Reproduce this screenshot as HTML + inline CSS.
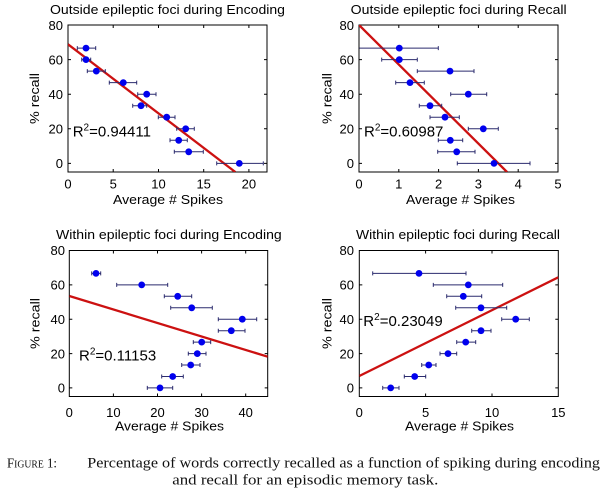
<!DOCTYPE html>
<html><head><meta charset="utf-8"><style>
html,body{margin:0;padding:0;background:#fff;}
svg{display:block;}
.t{font-family:"Liberation Sans",Arial,sans-serif;fill:#000;}
.c{font-family:"Liberation Serif","Times New Roman",serif;fill:#111;}
</style></head><body>
<svg width="608" height="499" viewBox="0 0 608 499" xmlns="http://www.w3.org/2000/svg">
<defs>
<clipPath id="c1"><rect x="68" y="25" width="199" height="147"/></clipPath>
<clipPath id="c2"><rect x="359" y="25" width="199" height="147"/></clipPath>
<clipPath id="c3"><rect x="69.3" y="250.5" width="198.4" height="146"/></clipPath>
<clipPath id="c4"><rect x="359.3" y="250.5" width="199" height="146"/></clipPath>
</defs>

<!-- ================= Panel 1 ================= -->
<g>
<rect x="68" y="25" width="199" height="147" fill="#fff" stroke="#000" stroke-width="1"/>
<g stroke="#000" stroke-width="1">
<path d="M113.2 172v-3M158.5 172v-3M203.7 172v-3M248.9 172v-3M113.2 25v3M158.5 25v3M203.7 25v3M248.9 25v3"/>
<path d="M68 163.4h3M68 128.8h3M68 94.2h3M68 59.6h3M267 163.4h-3M267 128.8h-3M267 94.2h-3M267 59.6h-3"/>
</g>
<g class="t" font-size="13" text-anchor="end">
<text x="63" y="30">80</text><text x="63" y="64.3">60</text><text x="63" y="98.9">40</text><text x="63" y="133.5">20</text><text x="63" y="168.1">0</text>
</g>
<g class="t" font-size="13" text-anchor="middle">
<text x="68" y="188.5">0</text><text x="113.2" y="188.5">5</text><text x="158.5" y="188.5">10</text><text x="203.7" y="188.5">15</text><text x="248.9" y="188.5">20</text>
</g>
<text class="t" font-size="13" x="50" y="14" textLength="235" lengthAdjust="spacingAndGlyphs">Outside epileptic foci during Encoding</text>
<text class="t" font-size="13" x="113" y="204" textLength="110" lengthAdjust="spacingAndGlyphs">Average # Spikes</text>
<text class="t" font-size="13" transform="translate(39,124) rotate(-90)" textLength="51" lengthAdjust="spacingAndGlyphs">% recall</text>
<g clip-path="url(#c1)">
<line x1="68" y1="44.3" x2="235.3" y2="172" stroke="#cc1111" stroke-width="2.3"/>
<g stroke="#2b2b6e" stroke-width="1" fill="none">
<path d="M77.3 48.1H95.7M77.3 46.1v4M95.7 46.1v4"/>
<path d="M81.7 59.6H90.7M81.7 57.6v4M90.7 57.6v4"/>
<path d="M87.3 71.1H105.3M87.3 69.1v4M105.3 69.1v4"/>
<path d="M109.3 82.6H136.7M109.3 80.6v4M136.7 80.6v4"/>
<path d="M137.7 94.2H156M137.7 92.2v4M156 92.2v4"/>
<path d="M132.7 105.7H146.7M132.7 103.7v4M146.7 103.7v4"/>
<path d="M158.3 117.2H175M158.3 115.2v4M175 115.2v4"/>
<path d="M176.7 128.8H194.3M176.7 126.8v4M194.3 126.8v4"/>
<path d="M170 140.3H187.3M170 138.3v4M187.3 138.3v4"/>
<path d="M174.3 151.8H203.3M174.3 149.8v4M203.3 149.8v4"/>
<path d="M216.7 163.4H263.3M216.7 161.4v4M263.3 161.4v4"/>
</g>
<g fill="#0000ee">
<circle cx="86" cy="48.1" r="3.4"/><circle cx="86" cy="59.6" r="3.4"/><circle cx="96.3" cy="71.1" r="3.4"/>
<circle cx="123.3" cy="82.6" r="3.4"/><circle cx="146.7" cy="94.2" r="3.4"/><circle cx="141" cy="105.7" r="3.4"/>
<circle cx="166.7" cy="117.2" r="3.4"/><circle cx="185.7" cy="128.8" r="3.4"/><circle cx="178.7" cy="140.3" r="3.4"/>
<circle cx="188.7" cy="151.8" r="3.4"/><circle cx="239.3" cy="163.4" r="3.4"/>
</g>
</g>
<text class="t" font-size="15" x="72.7" y="136.7">R<tspan font-size="10" dy="-6">2</tspan><tspan dy="6">=0.94411</tspan></text>
</g>

<!-- ================= Panel 2 ================= -->
<g>
<rect x="359" y="25" width="199" height="147" fill="none" stroke="#000" stroke-width="1"/>
<g stroke="#000" stroke-width="1">
<path d="M398.8 172v-3M438.6 172v-3M478.4 172v-3M518.2 172v-3M398.8 25v3M438.6 25v3M478.4 25v3M518.2 25v3"/>
<path d="M359 163.4h3M359 128.8h3M359 94.2h3M359 59.6h3M558 163.4h-3M558 128.8h-3M558 94.2h-3M558 59.6h-3"/>
</g>
<g class="t" font-size="13" text-anchor="end">
<text x="354" y="30">80</text><text x="354" y="64.3">60</text><text x="354" y="98.9">40</text><text x="354" y="133.5">20</text><text x="354" y="168.1">0</text>
</g>
<g class="t" font-size="13" text-anchor="middle">
<text x="359" y="188.5">0</text><text x="398.8" y="188.5">1</text><text x="438.6" y="188.5">2</text><text x="478.4" y="188.5">3</text><text x="518.2" y="188.5">4</text><text x="558" y="188.5">5</text>
</g>
<text class="t" font-size="13" x="350.7" y="14" textLength="216" lengthAdjust="spacingAndGlyphs">Outside epileptic foci during Recall</text>
<text class="t" font-size="13" x="406" y="204" textLength="109" lengthAdjust="spacingAndGlyphs">Average # Spikes</text>
<text class="t" font-size="13" transform="translate(331.5,124) rotate(-90)" textLength="51" lengthAdjust="spacingAndGlyphs">% recall</text>
<g clip-path="url(#c2)">
<line x1="359" y1="25" x2="507" y2="172" stroke="#cc1111" stroke-width="2.3"/>
<g stroke="#2b2b6e" stroke-width="1" fill="none">
<path d="M359.3 48.1H438.3M438.3 46.1v4"/>
<path d="M381.7 59.6H417.3M381.7 57.6v4M417.3 57.6v4"/>
<path d="M417.3 71.1H474M417.3 69.1v4M474 69.1v4"/>
<path d="M395.7 82.6H424.3M395.7 80.6v4M424.3 80.6v4"/>
<path d="M450.7 94.2H486.7M450.7 92.2v4M486.7 92.2v4"/>
<path d="M419.3 105.7H441.7M419.3 103.7v4M441.7 103.7v4"/>
<path d="M430 117.2H459.3M430 115.2v4M459.3 115.2v4"/>
<path d="M468.3 128.8H498.3M468.3 126.8v4M498.3 126.8v4"/>
<path d="M438.3 140.3H462.7M438.3 138.3v4M462.7 138.3v4"/>
<path d="M437.7 151.8H475M437.7 149.8v4M475 149.8v4"/>
<path d="M457.3 163.4H530M457.3 161.4v4M530 161.4v4"/>
</g>
<g fill="#0000ee">
<circle cx="399.3" cy="48.1" r="3.4"/><circle cx="399.3" cy="59.6" r="3.4"/><circle cx="450" cy="71.1" r="3.4"/>
<circle cx="410" cy="82.6" r="3.4"/><circle cx="468.3" cy="94.2" r="3.4"/><circle cx="430" cy="105.7" r="3.4"/>
<circle cx="445" cy="117.2" r="3.4"/><circle cx="483.3" cy="128.8" r="3.4"/><circle cx="450.3" cy="140.3" r="3.4"/>
<circle cx="456.7" cy="151.8" r="3.4"/><circle cx="494" cy="163.4" r="3.4"/>
</g>
</g>
<text class="t" font-size="15" x="364" y="136.7">R<tspan font-size="10" dy="-6">2</tspan><tspan dy="6">=0.60987</tspan></text>
</g>

<!-- ================= Panel 3 ================= -->
<g>
<rect x="69.3" y="250.5" width="198.4" height="146" fill="none" stroke="#000" stroke-width="1"/>
<g stroke="#000" stroke-width="1">
<path d="M113.4 396.5v-3M157.5 396.5v-3M201.6 396.5v-3M245.7 396.5v-3M113.4 250.5v3M157.5 250.5v3M201.6 250.5v3M245.7 250.5v3"/>
<path d="M69.3 387.9h3M69.3 353.6h3M69.3 319.2h3M69.3 284.9h3M267.7 387.9h-3M267.7 353.6h-3M267.7 319.2h-3M267.7 284.9h-3"/>
</g>
<g class="t" font-size="13" text-anchor="end">
<text x="65" y="255.2">80</text><text x="65" y="289.6">60</text><text x="65" y="323.9">40</text><text x="65" y="358.3">20</text><text x="65" y="392.6">0</text>
</g>
<g class="t" font-size="13" text-anchor="middle">
<text x="69.3" y="417">0</text><text x="113.4" y="417">10</text><text x="157.5" y="417">20</text><text x="201.6" y="417">30</text><text x="245.7" y="417">40</text>
</g>
<text class="t" font-size="13" x="56" y="239" textLength="225.7" lengthAdjust="spacingAndGlyphs">Within epileptic foci during Encoding</text>
<text class="t" font-size="13" x="115" y="430.7" textLength="109" lengthAdjust="spacingAndGlyphs">Average # Spikes</text>
<text class="t" font-size="13" transform="translate(39.5,349) rotate(-90)" textLength="51" lengthAdjust="spacingAndGlyphs">% recall</text>
<g clip-path="url(#c3)">
<line x1="69.3" y1="296" x2="267.7" y2="356.7" stroke="#cc1111" stroke-width="2.3"/>
<g stroke="#2b2b6e" stroke-width="1" fill="none">
<path d="M91.7 273.4H100.7M91.7 271.4v4M100.7 271.4v4"/>
<path d="M116.7 284.9H167.7M116.7 282.9v4M167.7 282.9v4"/>
<path d="M164.3 296.3H191.7M164.3 294.3v4M191.7 294.3v4"/>
<path d="M170.7 307.8H212.3M170.7 305.8v4M212.3 305.8v4"/>
<path d="M218.3 319.2H256.7M218.3 317.2v4M256.7 317.2v4"/>
<path d="M218.3 330.7H245M218.3 328.7v4M245 328.7v4"/>
<path d="M193.3 342.1H210.7M193.3 340.1v4M210.7 340.1v4"/>
<path d="M188.3 353.6H206M188.3 351.6v4M206 351.6v4"/>
<path d="M181.7 365H200M181.7 363v4M200 363v4"/>
<path d="M161.7 376.5H183.3M161.7 374.5v4M183.3 374.5v4"/>
<path d="M147.3 387.9H172.7M147.3 385.9v4M172.7 385.9v4"/>
</g>
<g fill="#0000ee">
<circle cx="96" cy="273.4" r="3.4"/><circle cx="141.7" cy="284.9" r="3.4"/><circle cx="177.7" cy="296.3" r="3.4"/>
<circle cx="191.7" cy="307.8" r="3.4"/><circle cx="242.3" cy="319.2" r="3.4"/><circle cx="231.3" cy="330.7" r="3.4"/>
<circle cx="201.7" cy="342.1" r="3.4"/><circle cx="197.3" cy="353.6" r="3.4"/><circle cx="190.7" cy="365" r="3.4"/>
<circle cx="172.7" cy="376.5" r="3.4"/><circle cx="160" cy="387.9" r="3.4"/>
</g>
</g>
<text class="t" font-size="15" x="79" y="360.7">R<tspan font-size="10" dy="-6">2</tspan><tspan dy="6">=0.11153</tspan></text>
</g>

<!-- ================= Panel 4 ================= -->
<g>
<rect x="359.3" y="250.5" width="199" height="146" fill="none" stroke="#000" stroke-width="1"/>
<g stroke="#000" stroke-width="1">
<path d="M425.6 396.5v-3M492 396.5v-3M425.6 250.5v3M492 250.5v3"/>
<path d="M359.3 387.9h3M359.3 353.6h3M359.3 319.2h3M359.3 284.9h3M558.3 387.9h-3M558.3 353.6h-3M558.3 319.2h-3M558.3 284.9h-3"/>
</g>
<g class="t" font-size="13" text-anchor="end">
<text x="354" y="255.2">80</text><text x="354" y="289.6">60</text><text x="354" y="323.9">40</text><text x="354" y="358.3">20</text><text x="354" y="392.6">0</text>
</g>
<g class="t" font-size="13" text-anchor="middle">
<text x="359.3" y="417">0</text><text x="425.6" y="417">5</text><text x="492" y="417">10</text><text x="558.3" y="417">15</text>
</g>
<text class="t" font-size="13" x="356" y="239" textLength="204" lengthAdjust="spacingAndGlyphs">Within epileptic foci during Recall</text>
<text class="t" font-size="13" x="405" y="430.7" textLength="109" lengthAdjust="spacingAndGlyphs">Average # Spikes</text>
<text class="t" font-size="13" transform="translate(331.5,349) rotate(-90)" textLength="51" lengthAdjust="spacingAndGlyphs">% recall</text>
<g clip-path="url(#c4)">
<line x1="359.3" y1="376" x2="558.3" y2="277.3" stroke="#cc1111" stroke-width="2.3"/>
<g stroke="#2b2b6e" stroke-width="1" fill="none">
<path d="M372.7 273.4H466M372.7 271.4v4M466 271.4v4"/>
<path d="M433.3 284.9H502.7M433.3 282.9v4M502.7 282.9v4"/>
<path d="M446.7 296.3H481.7M446.7 294.3v4M481.7 294.3v4"/>
<path d="M455.7 307.8H506.7M455.7 305.8v4M506.7 305.8v4"/>
<path d="M501.7 319.2H529.3M501.7 317.2v4M529.3 317.2v4"/>
<path d="M471.7 330.7H491M471.7 328.7v4M491 328.7v4"/>
<path d="M456.7 342.1H475.7M456.7 340.1v4M475.7 340.1v4"/>
<path d="M440 353.6H456.7M440 351.6v4M456.7 351.6v4"/>
<path d="M421.7 365H436M421.7 363v4M436 363v4"/>
<path d="M404.3 376.5H425.7M404.3 374.5v4M425.7 374.5v4"/>
<path d="M382.7 387.9H399M382.7 385.9v4M399 385.9v4"/>
</g>
<g fill="#0000ee">
<circle cx="419" cy="273.4" r="3.4"/><circle cx="468.3" cy="284.9" r="3.4"/><circle cx="463.3" cy="296.3" r="3.4"/>
<circle cx="481" cy="307.8" r="3.4"/><circle cx="515.7" cy="319.2" r="3.4"/><circle cx="481" cy="330.7" r="3.4"/>
<circle cx="465.7" cy="342.1" r="3.4"/><circle cx="448" cy="353.6" r="3.4"/><circle cx="428.7" cy="365" r="3.4"/>
<circle cx="414.7" cy="376.5" r="3.4"/><circle cx="390.7" cy="387.9" r="3.4"/>
</g>
</g>
<text class="t" font-size="15" x="363.3" y="326">R<tspan font-size="10" dy="-6">2</tspan><tspan dy="6">=0.23049</tspan></text>
</g>

<!-- ================= Caption ================= -->
<text class="c" font-size="14" x="7" y="467.7" textLength="50" lengthAdjust="spacingAndGlyphs">F<tspan font-size="10.5">IGURE</tspan> 1:</text>
<text class="c" font-size="15" x="87.3" y="467.7" textLength="512.7" lengthAdjust="spacingAndGlyphs">Percentage of words correctly recalled as a function of spiking during encoding</text>
<text class="c" font-size="15" x="172.3" y="484.3" textLength="266" lengthAdjust="spacingAndGlyphs">and recall for an episodic memory task.</text>
</svg>
</body></html>
